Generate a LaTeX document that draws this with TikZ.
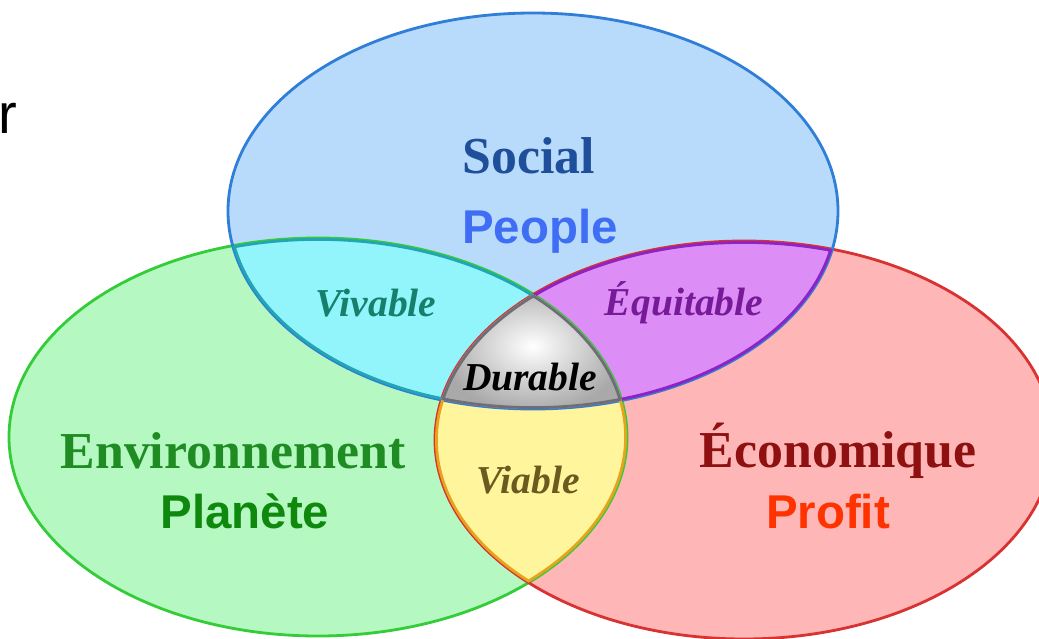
\documentclass[tikz,border=0pt]{standalone}
\usepackage{fontspec}
\setmainfont{Liberation Serif}
\setsansfont{Liberation Sans}
\definecolor{socialfill}{HTML}{B9DBFB}
\definecolor{socialline}{HTML}{2F7ED8}
\definecolor{envfill}{HTML}{B6F8C2}
\definecolor{envline}{HTML}{35CC3A}
\definecolor{ecofill}{HTML}{FFB6B6}
\definecolor{ecoline}{HTML}{D93232}
\definecolor{vivfill}{HTML}{92F5FB}
\definecolor{vivline}{HTML}{22A6B4}
\definecolor{equfill}{HTML}{DD8DF6}
\definecolor{equline}{HTML}{8E22C4}
\definecolor{viafill}{HTML}{FFF59C}
\definecolor{vialine}{HTML}{E6A41E}
\definecolor{durfill}{HTML}{A9A9A9}
\definecolor{durline}{HTML}{6E6E76}
\definecolor{socialtext}{HTML}{1F4E9A}
\definecolor{peopletext}{HTML}{3F6EF5}
\definecolor{vivtext}{HTML}{17806C}
\definecolor{equtext}{HTML}{761A98}
\definecolor{viatext}{HTML}{6B5920}
\definecolor{envtext}{HTML}{1E8C22}
\definecolor{planettext}{HTML}{0E890E}
\definecolor{ecotext}{HTML}{8E1010}
\definecolor{profittext}{HTML}{FF3300}

\begin{document}
\begin{tikzpicture}[x=0.02cm,y=-0.02cm]
    \tikzstyle{title}=[font=\fontsize{29.5}{32}\selectfont\bfseries,anchor=base,inner sep=0pt]
    \tikzstyle{word}=[font=\fontsize{27}{30}\selectfont\sffamily\bfseries,anchor=base,inner sep=0pt]
    \tikzstyle{zone}=[font=\fontsize{22.5}{25}\selectfont\bfseries\itshape,anchor=base,inner sep=0pt]
    \tikzstyle{rim}=[line width=1.6pt]
    \tikzstyle{inner rim}=[line width=3.2pt]
    \useasboundingbox (0,0) rectangle (1039,639);
    \def\socialpath{(533,211) ellipse [x radius=305,y radius=198]}
    \def\envpath{(318,437) ellipse [x radius=309,y radius=199]}
    \def\ecopath{(744,440) ellipse [x radius=309,y radius=199]}
    % the three circles
    \fill[envfill] \envpath;
    \fill[ecofill] \ecopath;
    \fill[socialfill] \socialpath;
    % the overlaps
    \begin{scope}
      \clip \socialpath;
      \fill[vivfill] \envpath;
      \fill[equfill] \ecopath;
    \end{scope}
    \begin{scope}
      \clip \envpath;
      \fill[viafill] \ecopath;
    \end{scope}
    \draw[rim,envline] \envpath;
    \draw[rim,ecoline] \ecopath;
    \draw[rim,socialline] \socialpath;
    \begin{scope}
      \clip \socialpath; \clip \envpath;
      \draw[inner rim,vivline] \socialpath \envpath;
    \end{scope}
    \begin{scope}
      \clip \socialpath; \clip \ecopath;
      \draw[inner rim,equline] \socialpath \ecopath;
    \end{scope}
    \begin{scope}
      \clip \envpath; \clip \ecopath;
      \draw[inner rim,vialine] \envpath \ecopath;
    \end{scope}
    \begin{scope}
      \clip \socialpath; \clip \envpath; \clip \ecopath;
      \shade[inner color=white,outer color=durfill] (440,280) rectangle (625,412);
      \draw[inner rim,durline] \socialpath \envpath \ecopath;
    \end{scope}
    % labels
    \node[title,socialtext] (social) at (529,173) {Social};
    \node[word,peopletext] (people) at (540,243) {People};
    \node[zone,vivtext] (vivable) at (376,316) {Vivable};
    \node[zone,equtext] (equitable) at (684,315) {Équitable};
    \node[zone,black] (durable) at (530,390) {Durable};
    \node[zone,viatext] (viable) at (528,493) {Viable};
    \node[title,envtext] (environnement) at (233,468) {Environnement};
    \node[word,planettext] (planete) at (245,528) {Planète};
    \node[title,ecotext] (economique) at (838,467) {Économique};
    \node[word,profittext] (profit) at (828,528) {Profit};
    \node[font=\fontsize{32}{34}\selectfont\sffamily,anchor=base west,inner sep=0pt] (cut) at (-2,133) {r};
\end{tikzpicture}
\end{document}
